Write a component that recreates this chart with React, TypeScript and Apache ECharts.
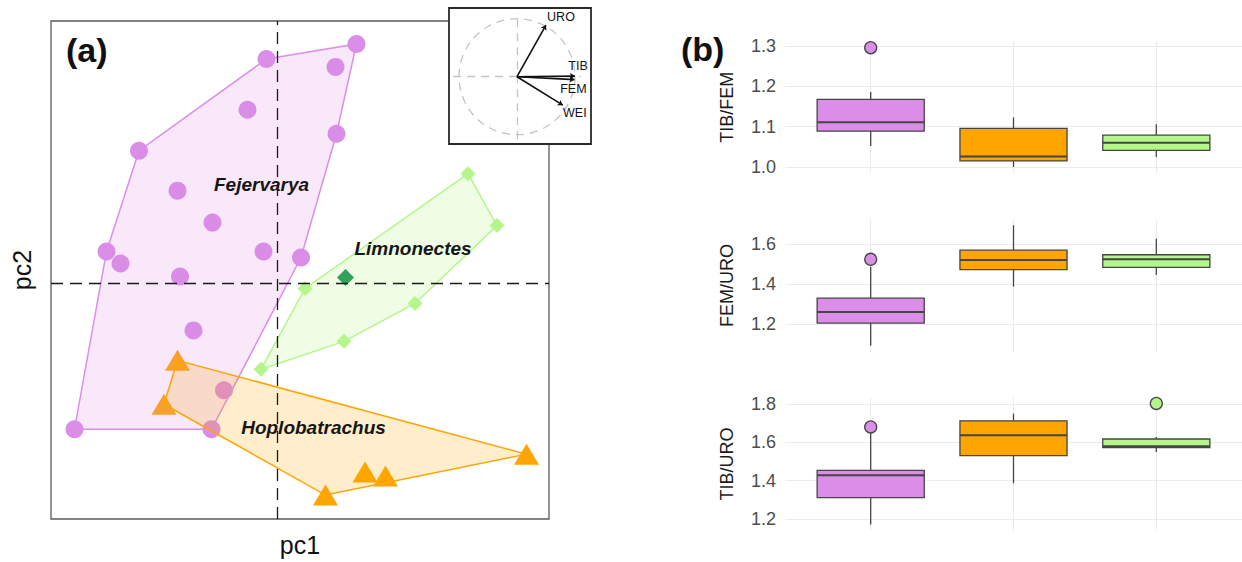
import React, { useEffect, useRef } from 'react';
import * as echarts from 'echarts';

// ---------- Panel (a): PCA scores ----------
const fejervarya = [
  [-0.11, 2.25], [0.79, 2.40], [0.58, 2.17], [-0.30, 1.74], [0.59, 1.50],
  [-1.385, 1.33], [-1.00, 0.93], [-0.65, 0.61], [-1.71, 0.32], [-1.57, 0.20],
  [-0.14, 0.32], [0.235, 0.26], [-0.975, 0.07], [-0.84, -0.47], [-0.535, -1.07],
  [-0.66, -1.46], [-2.03, -1.46],
];
const limnonectes = [
  [0.275, -0.05], [1.905, 1.10], [2.195, 0.58], [1.375, -0.20], [0.665, -0.58], [-0.165, -0.86],
];
const limnonectesSpecial = [[0.68, 0.06]];
const hoplobatrachus = [
  [-1.00, -0.77], [-1.135, -1.21], [2.49, -1.71], [0.875, -1.89], [1.08, -1.93], [0.48, -2.12],
];
const speciesLabelNames = ['Fejervarya', 'Limnonectes', 'Hoplobatrachus'];
const speciesLabelAnchors = [[-0.16, 0.99], [1.355, 0.35], [0.36, -1.44]];

// ---------- Inset: loadings ----------
const loadingNames = ['URO', 'TIB', 'FEM', 'WEI'];
const loadingValues = [[0.50, 0.89], [1.0, 0.01], [0.99, -0.05], [0.79, -0.49]];

// ---------- Panel (b): ratios boxplots ----------
const groups = ['Fejervarya', 'Hoplobatrachus', 'Limnonectes'];
const ratioNames = ['TIB/FEM', 'FEM/URO', 'TIB/URO'];
// [lower whisker, Q1, median, Q3, upper whisker]
const tibFemStats = [
  [1.052, 1.089, 1.111, 1.168, 1.186],
  [1.000, 1.015, 1.026, 1.096, 1.123],
  [1.025, 1.041, 1.060, 1.079, 1.106],
];
const tibFemOutliers = [[1, 1.296]];
const tibFemTicks = [1.0, 1.1, 1.2, 1.3];
const tibFemRange = [0.985, 1.311];

const femUroStats = [
  [1.090, 1.204, 1.259, 1.329, 1.487],
  [1.387, 1.472, 1.520, 1.570, 1.695],
  [1.445, 1.484, 1.524, 1.547, 1.627],
];
const femUroOutliers = [[1, 1.524]];
const femUroTicks = [1.2, 1.4, 1.6];
const femUroRange = [1.06, 1.725];

const tibUroStats = [
  [1.171, 1.312, 1.429, 1.454, 1.653],
  [1.387, 1.531, 1.638, 1.713, 1.751],
  [1.550, 1.573, 1.580, 1.618, 1.629],
];
const tibUroOutliers = [[1, 1.681], [3, 1.804]];
const tibUroTicks = [1.2, 1.4, 1.6, 1.8];
const tibUroRange = [1.139, 1.836];

const PURPLE = '#DA8EE8';
const ORANGE = '#FFA500';
const GREEN = '#B4F68A';
const DARKGREEN = '#0E8A4C';
const groupColors = [PURPLE, ORANGE, GREEN];
const FONT = '"Liberation Sans", Arial, Helvetica, sans-serif';

function convexHull(pts: number[][]) {
  const p = pts.slice().sort((a, b) => a[0] - b[0] || a[1] - b[1]);
  const cross = (o: number[], a: number[], b: number[]) =>
    (a[0] - o[0]) * (b[1] - o[1]) - (a[1] - o[1]) * (b[0] - o[0]);
  const lower: number[][] = [];
  for (const q of p) {
    while (lower.length >= 2 && cross(lower[lower.length - 2], lower[lower.length - 1], q) <= 0) lower.pop();
    lower.push(q);
  }
  const upper: number[][] = [];
  for (let i = p.length - 1; i >= 0; i--) {
    const q = p[i];
    while (upper.length >= 2 && cross(upper[upper.length - 2], upper[upper.length - 1], q) <= 0) upper.pop();
    upper.push(q);
  }
  upper.pop();
  lower.pop();
  return lower.concat(upper);
}

function hullSeries(pts: number[][], stroke: string, fill: string) {
  const hull = convexHull(pts);
  return {
    type: 'custom',
    xAxisIndex: 0,
    yAxisIndex: 0,
    z: 3,
    silent: true,
    data: hull,
    encode: { x: 0, y: 1 },
    renderItem: (params: any, api: any) => {
      if (params.dataIndex !== 0) return null;
      return {
        type: 'polygon',
        shape: { points: hull.map((h) => api.coord(h)) },
        style: { fill, stroke, lineWidth: 1.5 },
      };
    },
  };
}

export default function App() {
  const ref = useRef<HTMLDivElement>(null);

  useEffect(() => {
    document.body.style.margin = '0';
    const chart = echarts.init(ref.current!, null, { renderer: 'svg' });

    const boxTops = [41.7, 219.3, 397.3];
    const boxHeights = [131.3, 132.4, 133.4];
    const statsList = [tibFemStats, femUroStats, tibUroStats];
    const outlierList = [tibFemOutliers, femUroOutliers, tibUroOutliers];
    const tickList = [tibFemTicks, femUroTicks, tibUroTicks];
    const rangeList = [tibFemRange, femUroRange, tibUroRange];

    const grids: any[] = [
      { left: 51, top: 21, width: 498, height: 499, show: true, borderColor: '#5a5a5a', borderWidth: 1.3, backgroundColor: 'transparent' },
      { left: 449, top: 8, width: 142, height: 136, show: true, borderColor: '#2a2a2a', borderWidth: 1.8, backgroundColor: '#ffffff', z: 8 },
    ];
    const xAxes: any[] = [
      {
        gridIndex: 0, type: 'value', min: -2.265, max: 2.715,
        axisLine: { show: false }, axisTick: { show: false }, axisLabel: { show: false }, splitLine: { show: false },
        name: 'pc1', nameLocation: 'middle', nameGap: 13,
        nameTextStyle: { fontSize: 25, color: '#111', fontFamily: FONT },
      },
      {
        gridIndex: 1, type: 'value', min: -1.172, max: 1.276, show: false,
        axisLine: { show: false }, axisTick: { show: false }, axisLabel: { show: false }, splitLine: { show: false },
      },
    ];
    const yAxes: any[] = [
      {
        gridIndex: 0, type: 'value', min: -2.36, max: 2.63,
        axisLine: { show: false }, axisTick: { show: false }, axisLabel: { show: false }, splitLine: { show: false },
        name: 'pc2', nameLocation: 'middle', nameGap: 17,
        nameTextStyle: { fontSize: 25, color: '#111', fontFamily: FONT },
      },
      {
        gridIndex: 1, type: 'value', min: -1.16, max: 1.184, show: false,
        axisLine: { show: false }, axisTick: { show: false }, axisLabel: { show: false }, splitLine: { show: false },
      },
    ];

    const series: any[] = [
      { type: 'scatter', xAxisIndex: 0, yAxisIndex: 0, z: 2, symbol: 'circle', symbolSize: 18, itemStyle: { color: PURPLE, opacity: 1 }, data: fejervarya },
      { type: 'scatter', xAxisIndex: 0, yAxisIndex: 0, z: 2, symbol: 'diamond', symbolSize: 15, itemStyle: { color: GREEN, opacity: 1 }, data: limnonectes },
      { type: 'scatter', xAxisIndex: 0, yAxisIndex: 0, z: 2, symbol: 'diamond', symbolSize: 17, itemStyle: { color: DARKGREEN, opacity: 1 }, data: limnonectesSpecial },
      { type: 'scatter', xAxisIndex: 0, yAxisIndex: 0, z: 2, symbol: 'triangle', symbolSize: [25, 21], itemStyle: { color: ORANGE, opacity: 1 }, data: hoplobatrachus },
      hullSeries(fejervarya, PURPLE, 'rgba(218,142,232,0.2)'),
      hullSeries(limnonectes, GREEN, 'rgba(180,246,138,0.22)'),
      hullSeries(hoplobatrachus, ORANGE, 'rgba(255,165,0,0.2)'),
      {
        type: 'scatter', xAxisIndex: 0, yAxisIndex: 0, z: 4, silent: true, symbolSize: 0,
        itemStyle: { color: '#161616', opacity: 1 },
        data: speciesLabelNames.map((n, i) => ({ name: n, value: speciesLabelAnchors[i] })),
        label: {
          show: true, position: 'inside', formatter: '{b}', fontSize: 19, fontWeight: 'bold', fontStyle: 'italic',
          color: '#161616', fontFamily: FONT, textBorderWidth: 0, textBorderColor: 'transparent', opacity: 1,
        },
        markLine: {
          silent: true, symbol: 'none', z: 5, label: { show: false },
          lineStyle: { type: [12, 7], color: '#1a1a1a', width: 1.3 },
          data: [{ xAxis: 0 }, { yAxis: 0 }],
        },
      },
      // inset
      {
        type: 'custom', xAxisIndex: 1, yAxisIndex: 1, z: 9, silent: true, data: [[0, 0]],
        renderItem: (params: any, api: any) => {
          const c = api.coord([0, 0]);
          const s = api.size([1, 1]);
          return {
            type: 'circle', shape: { cx: c[0], cy: c[1], r: s[0] },
            style: { fill: 'none', stroke: '#c4c4c4', lineWidth: 1.3, lineDash: [8, 6] },
          };
        },
      },
      {
        type: 'lines', coordinateSystem: 'cartesian2d', xAxisIndex: 1, yAxisIndex: 1, z: 9, silent: true,
        lineStyle: { color: '#c4c4c4', width: 1.3, type: [8, 6], opacity: 1 },
        data: [{ coords: [[-1.1, 0], [1.1, 0]] }, { coords: [[0, -1.08], [0, 1.1]] }],
      },
      {
        type: 'lines', coordinateSystem: 'cartesian2d', xAxisIndex: 1, yAxisIndex: 1, z: 10, silent: true,
        symbol: ['none', 'arrow'], symbolSize: 5,
        lineStyle: { color: '#111', width: 1.6, opacity: 1 },
        data: loadingValues.map((v) => ({ coords: [[0, 0], v] })),
      },
      {
        type: 'scatter', xAxisIndex: 1, yAxisIndex: 1, z: 11, silent: true, symbolSize: 0,
        itemStyle: { color: '#111', opacity: 1 },
        data: loadingNames.map((n, i) => {
          const off: Record<string, number[]> = { URO: [15, -8], TIB: [3, -10], FEM: [-1, 9], WEI: [12, 8] };
          return { name: n, value: loadingValues[i], label: { offset: off[n] } };
        }),
        label: {
          show: true, position: 'inside', formatter: '{b}', fontSize: 12.5, color: '#111', fontFamily: FONT,
          textBorderWidth: 0, textBorderColor: 'transparent',
        },
      },
    ];

    for (let k = 0; k < 3; k++) {
      const gi = 2 + k;
      grids.push({ left: 785, right: 0, top: boxTops[k], height: boxHeights[k], show: false });
      xAxes.push({
        gridIndex: gi, type: 'value', min: 0.4, max: 3.6,
        axisLine: { show: false },
        axisTick: { show: false, customValues: [1, 2, 3] },
        axisLabel: { show: false, customValues: [1, 2, 3] },
        splitLine: { show: true, lineStyle: { color: '#ebebeb', width: 1.1 } },
      });
      yAxes.push({
        gridIndex: gi, type: 'value', min: rangeList[k][0], max: rangeList[k][1],
        axisLine: { show: false },
        axisTick: { show: false, customValues: tickList[k] },
        axisLabel: {
          show: true, customValues: tickList[k], fontSize: 18, color: '#4d4d4d', margin: 9, fontFamily: FONT,
          formatter: (v: number) => v.toFixed(1),
        },
        splitLine: { show: true, lineStyle: { color: '#ebebeb', width: 1.1 } },
        name: ratioNames[k], nameLocation: 'middle', nameGap: 49, nameMoveOverlap: false,
        nameTextStyle: { fontSize: 18, color: '#1a1a1a', fontFamily: FONT },
      });
      const stats = statsList[k];
      series.push({
        type: 'custom', xAxisIndex: gi, yAxisIndex: gi, z: 3, silent: true,
        data: stats.map((s, i) => [i + 1, ...s]),
        encode: { x: 0, y: [1, 2, 3, 4, 5] },
        renderItem: (params: any, api: any) => {
          const x = api.value(0);
          const low = api.coord([x, api.value(1)]);
          const q1 = api.coord([x, api.value(2)]);
          const med = api.coord([x, api.value(3)]);
          const q3 = api.coord([x, api.value(4)]);
          const high = api.coord([x, api.value(5)]);
          const w = api.size([0.75, 0])[0];
          const stroke = '#454545';
          return {
            type: 'group',
            children: [
              { type: 'line', shape: { x1: low[0], y1: low[1], x2: q1[0], y2: q1[1] }, style: { stroke, lineWidth: 1.3 } },
              { type: 'line', shape: { x1: q3[0], y1: q3[1], x2: high[0], y2: high[1] }, style: { stroke, lineWidth: 1.3 } },
              { type: 'rect', shape: { x: q3[0] - w / 2, y: q3[1], width: w, height: q1[1] - q3[1] }, style: { fill: groupColors[params.dataIndex], stroke, lineWidth: 1.3 } },
              { type: 'line', shape: { x1: med[0] - w / 2, y1: med[1], x2: med[0] + w / 2, y2: med[1] }, style: { stroke, lineWidth: 2 } },
            ],
          };
        },
      });
      series.push({
        type: 'scatter', xAxisIndex: gi, yAxisIndex: gi, z: 4, silent: true, symbol: 'circle', symbolSize: 12,
        data: outlierList[k].map((o) => ({ value: o, itemStyle: { color: groupColors[o[0] - 1] } })),
        itemStyle: { borderColor: '#454545', borderWidth: 1.3, opacity: 1 },
      });
    }

    chart.setOption({
      animation: false,
      textStyle: { fontFamily: FONT },
      grid: grids,
      xAxis: xAxes,
      yAxis: yAxes,
      series,
      graphic: [
        { type: 'text', left: 66, top: 33, z: 20, style: { text: '(a)', fontSize: 34, fontWeight: 'bold', fill: '#111', fontFamily: FONT } },
        { type: 'text', left: 681, top: 32, z: 20, style: { text: '(b)', fontSize: 34, fontWeight: 'bold', fill: '#111', fontFamily: FONT } },
      ],
    });

    return () => chart.dispose();
  }, []);

  return <div ref={ref} style={{ width: 1242, height: 562 }} />;
}
